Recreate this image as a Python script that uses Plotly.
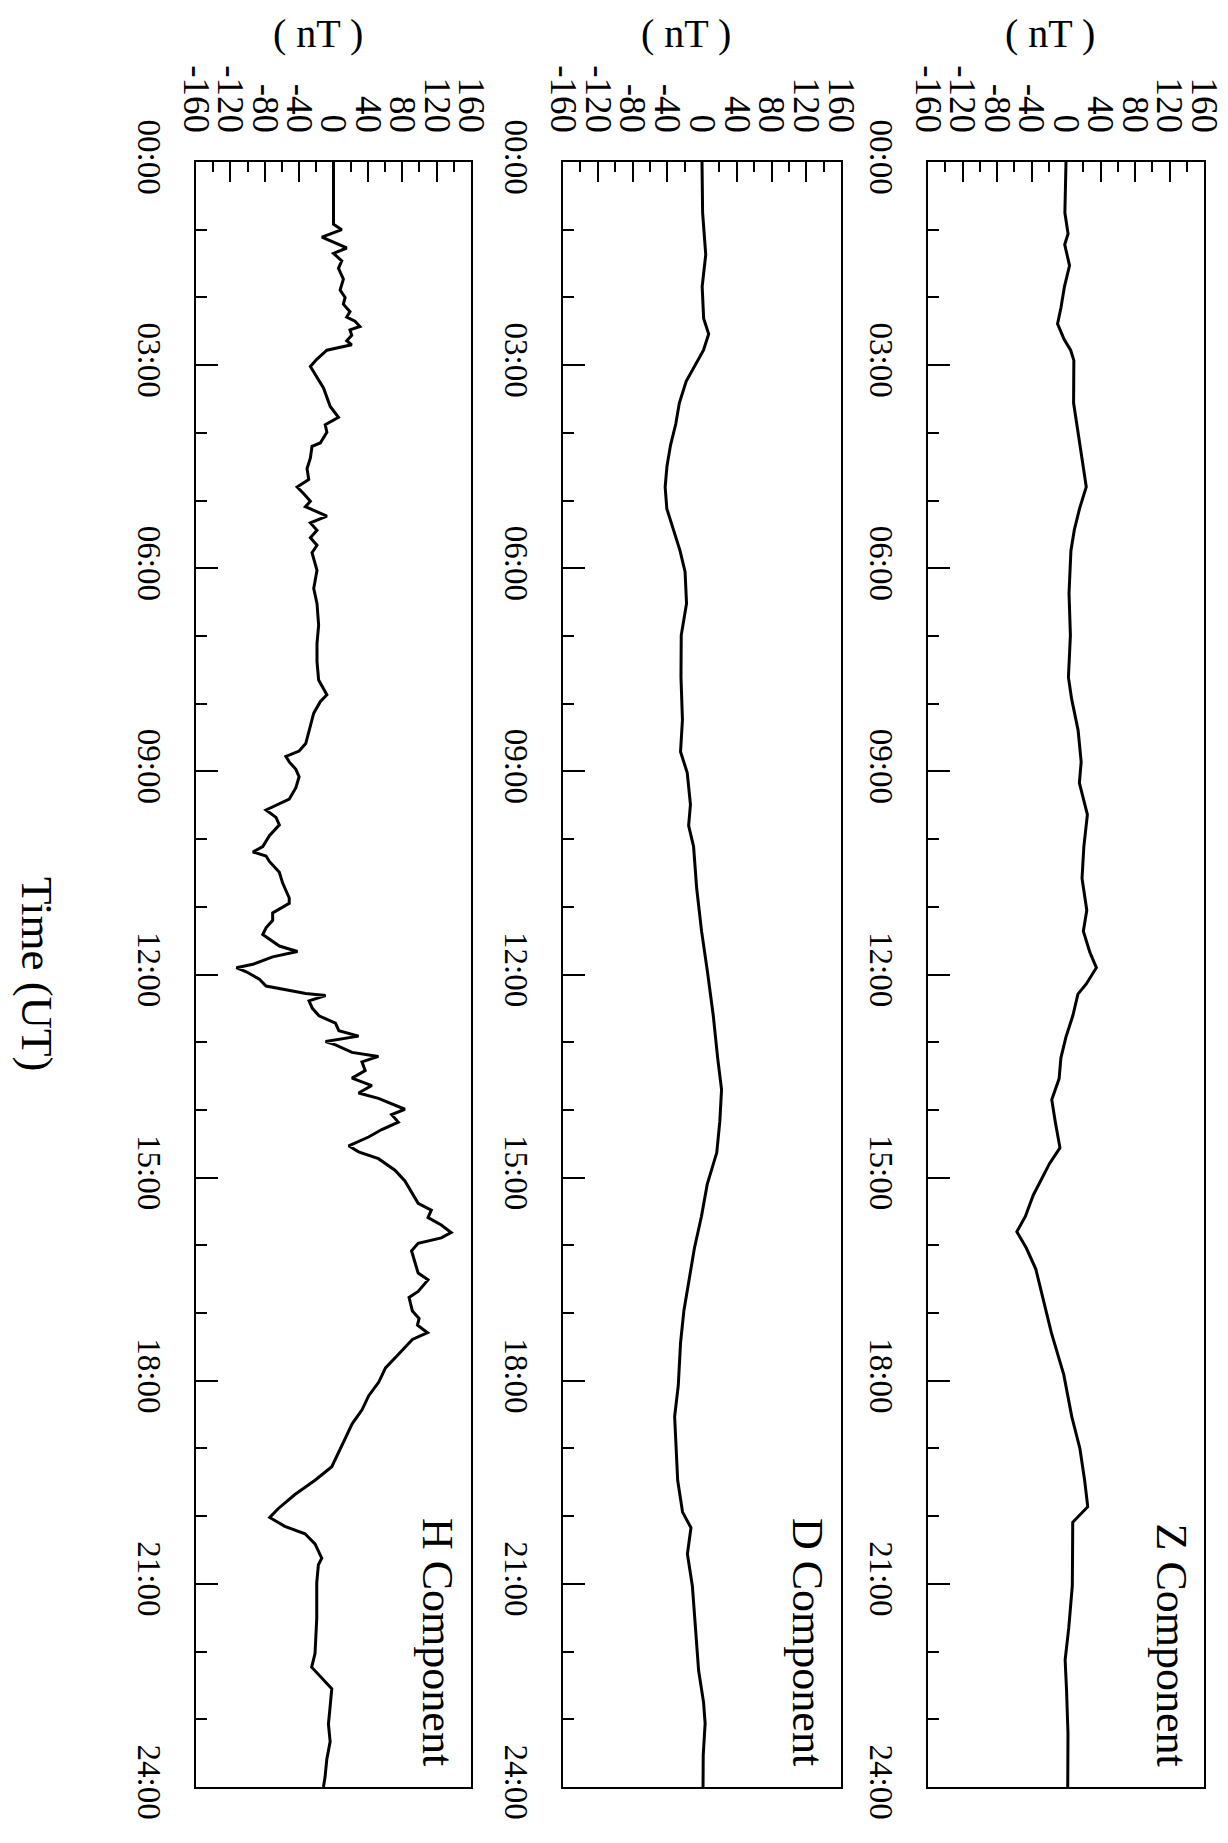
import plotly.graph_objects as go

# ---------------- data ----------------
# hours UT and nT for each component
h_time = [0.00, 0.92, 1.00, 1.11, 1.27, 1.35, 1.46, 1.57, 1.73, 1.89, 2.00, 2.10, 2.21, 2.29, 2.35, 2.43,
          2.48, 2.56, 2.64, 2.70, 2.78, 2.91, 3.02, 3.18, 3.34, 3.61, 3.77, 3.88, 3.99, 4.15, 4.20, 4.37,
          4.53, 4.69, 4.80, 4.90, 5.01, 5.09, 5.23, 5.33, 5.44, 5.55, 5.66, 5.77, 6.03, 6.30, 6.52, 6.84,
          7.11, 7.38, 7.65, 7.87, 7.97, 8.14, 8.43, 8.59, 8.70, 8.78, 8.86, 8.97, 9.08, 9.24, 9.41, 9.57,
          9.68, 9.79, 9.95, 10.11, 10.19, 10.25, 10.33, 10.49, 10.65, 10.76, 10.87, 10.95, 11.09, 11.20,
          11.31, 11.41, 11.58, 11.66, 11.74, 11.85, 11.90, 11.96, 12.07, 12.17, 12.23, 12.28, 12.31, 12.39,
          12.50, 12.61, 12.72, 12.83, 12.91, 12.99, 13.04, 13.15, 13.21, 13.29, 13.42, 13.53, 13.64, 13.75,
          13.83, 13.91, 13.99, 14.07, 14.18, 14.29, 14.40, 14.53, 14.62, 14.72, 14.89, 15.05, 15.21, 15.38,
          15.48, 15.59, 15.70, 15.81, 15.89, 15.97, 16.08, 16.24, 16.41, 16.51, 16.68, 16.77, 16.97, 17.08,
          17.18, 17.29, 17.39, 17.60, 17.81, 18.02, 18.22, 18.43, 18.64, 18.85, 19.06, 19.27, 19.47, 19.68,
          19.89, 20.02, 20.15, 20.26, 20.41, 20.62, 20.72, 20.98, 21.51, 22.03, 22.23, 22.39, 22.55, 22.81,
          23.07, 23.33, 23.59, 23.85, 24.00]
h_vals = [0, 0, 9.6, -13.5, 15.4, 0, 9.6, 5.8, 11.5, 7.7, 13.5, 11.5, 19.2, 15.4, 25, 30.8,
          19.2, 21.2, 15.4, 21.2, -7.7, -19.2, -26.9, -19.2, -11.5, -3.8, 5.8, -9.6, -7.7, -15.4, -25, -26.9,
          -30.8, -28.8, -42.3, -34.6, -26.9, -32.7, -7.7, -26.9, -19.2, -26.9, -19.2, -25, -19.2, -23, -19.2, -17.3,
          -19.2, -19.2, -17.3, -7.7, -15.4, -23, -28.5, -32.3, -40, -55.4, -51.5, -43.8, -40, -43.8, -51.5, -78.5,
          -66.9, -63, -74.6, -82.3, -93.8, -78.5, -74.6, -63, -59.2, -55.4, -51.5, -51.5, -70.8, -70.8,
          -78.5, -82.3, -63, -41.9, -70.8, -93.8, -113, -101.5, -86.2, -78.5, -55.4, -32.3, -9.2, -28.5,
          -24.6, -16.9, 2.3, 6.2, 29.2, -9.2, 2.3, 21.5, 52.3, 33.1, 36.9, 21.5, 44.6, 29.2,
          52.3, 67.7, 83.1, 67.7, 75.4, 56.2, 40.8, 17.7, 29.2, 52.3, 71.5, 83.1, 90.8, 98.5,
          113.8, 110, 125.4, 136.9, 125.4, 98.5, 90.8, 94.6, 98.5, 110, 98.5, 87.9, 91.8, 99.6,
          97.7, 109.4, 91.8, 76.2, 60.5, 52.7, 41, 33.2, 21.5, 13.7, 5.9, -2, -21.5, -44.9,
          -64.5, -74.2, -56.6, -33.2, -21.5, -13.7, -17.6, -19.5, -19.5, -21.5, -25.4, -13.7, -2, -3.9,
          -5.9, -3.9, -7.8, -9.8, -11.7]

d_time = [0.00, 0.75, 1.37, 1.84, 2.31, 2.54, 2.78, 3.01, 3.24, 3.56, 3.87, 4.18, 4.49, 4.80, 5.12, 5.43,
          5.74, 6.05, 6.52, 6.99, 7.61, 8.24, 8.71, 9.02, 9.49, 9.80, 10.11, 10.73, 11.36, 11.98, 12.61,
          13.23, 13.70, 14.17, 14.63, 15.10, 15.57, 16.04, 16.51, 16.97, 17.44, 18.07, 18.53, 19.00, 19.47,
          19.94, 20.17, 20.56, 21.03, 21.65, 22.28, 22.75, 23.06, 23.53, 24.00]
d_vals = [0, 0.7, 4.3, 0.2, 1.9, 7.7, 1.7, -8.2, -18.2, -26.1, -30.2, -36.2, -40.3, -42.4, -40.5, -32.9,
          -25.3, -19.5, -17.8, -23.9, -24.2, -22.5, -24.7, -17.0, -13.3, -15.4, -9.7, -6.1, -0.5, 6.5, 13.0,
          18.0, 22.5, 20.5, 17.0, 6.0, -0.6, -8.7, -14.8, -20.9, -24.7, -27.3, -31.5, -29.7, -28.0,
          -22.4, -12.7, -16.8, -11.1, -7.5, -3.9, 1.8, 3.6, 1.4, 1.2]

z_time = [0.00, 0.75, 1.06, 1.22, 1.53, 1.84, 2.15, 2.39, 2.62, 2.78, 2.93, 3.56, 4.02, 4.49, 4.80, 5.12,
          5.43, 5.74, 6.37, 6.99, 7.61, 7.93, 8.39, 8.86, 9.17, 9.64, 10.11, 10.58, 11.05, 11.36, 11.67,
          11.90, 12.14, 12.29, 12.61, 12.92, 13.23, 13.54, 13.85, 14.17, 14.56, 14.79, 15.26, 15.57, 15.80,
          16.04, 16.35, 16.82, 17.29, 17.91, 18.53, 19.00, 19.47, 19.86, 20.09, 20.56, 21.03, 21.65, 22.12,
          22.59, 23.21, 24.00]
z_vals = [0, -1.3, 2.4, -1.5, 4.1, -1.8, -5.8, -9.8, -2.2, 5.4, 9.1, 8.8, 14.3, 19.8, 23.5, 15.7,
          9.7, 5.7, 3.5, 5.1, 2.8, 6.5, 14.0, 17.6, 15.5, 24.8, 20.7, 18.6, 24.1, 20.1, 27.6,
          35.2, 23.5, 13.8, 7.9, 0.0, -5.9, -8.0, -16.5, -12.5, -7.0, -19.0, -38.0, -47.0, -57.0,
          -46.0, -35.0, -26.0, -17.0, -2.6, 6.7, 16.1, 21.6, 25.2, 7.8, 7.6, 7.3, 3.2, -1.0,
          0.7, 2.3, 2.0]

components = ["H Component", "D Component", "Z Component"]
value_ticks = [-160, -120, -80, -40, 0, 40, 80, 120, 160]
value_minor = [-140, -100, -60, -20, 20, 60, 100, 140]
value_labels = [str(v) for v in value_ticks]
time_ticks = [0, 3, 6, 9, 12, 15, 18, 21, 24]
time_labels = ["00:00", "03:00", "06:00", "09:00", "12:00", "15:00", "18:00", "21:00", "24:00"]
unit_label = "( nT )"
time_title = "Time (UT)"

# ---------------- layout ----------------
# positions are measured in window pixels; the page body has an 8px margin,
# so coordinates are shifted by 8px and the figure ends at the window edge.
OFF = 8
W, HGT = 1228 - OFF, 1843 - OFF
FONT = "Liberation Serif"
panels_px = [(196, 471), (563, 841), (928, 1204)]
top_px, bot_px = 162, 1787


def px(xw):
    return (xw - OFF) / W


def py(yw):
    return 1 - (yw - OFF) / HGT


ydom = [py(bot_px), py(top_px)]
series = [(h_time, h_vals), (d_time, d_vals), (z_time, z_vals)]

fig = go.Figure()
layout = dict(
    width=W, height=HGT, autosize=False,
    margin=dict(l=0, r=0, t=0, b=0, autoexpand=False),
    paper_bgcolor="white", plot_bgcolor="white",
    showlegend=False,
    font=dict(family=FONT, color="black"),
)

annotations = []
for i, ((l, r), (t, v)) in enumerate(zip(panels_px, series)):
    n = "" if i == 0 else str(i + 1)
    fig.add_trace(go.Scatter(x=v, y=t, mode="lines",
                             line=dict(color="black", width=3),
                             xaxis="x" + n, yaxis="y" + n, hoverinfo="skip"))
    layout["xaxis" + n] = dict(
        domain=[px(l), px(r)], anchor="y" + n, range=[-160, 160], automargin=False,
        side="top", tickmode="array", tickvals=value_ticks, ticktext=value_labels,
        tickangle=90, ticks="inside", ticklen=20, tickwidth=2, tickcolor="black",
        minor=dict(tickmode="array", tickvals=value_minor, ticks="inside", ticklen=10,
                   tickwidth=2, tickcolor="black", showgrid=False),
        showline=True, mirror=True, linewidth=2, linecolor="black",
        showgrid=False, zeroline=False, ticklabeloverflow="allow",
        tickfont=dict(family=FONT, size=37, color="black"),
        ticklabelstandoff=14,
    )
    layout["yaxis" + n] = dict(
        domain=ydom, anchor="x" + n, range=[24, 0], automargin=False,
        tickmode="array", tickvals=time_ticks, ticktext=time_labels,
        tickangle=90, ticks="inside", ticklen=22, tickwidth=2, tickcolor="black",
        minor=dict(dtick=1, tick0=0, ticks="inside", ticklen=11, tickwidth=2,
                   tickcolor="black", showgrid=False),
        showline=True, mirror=True, linewidth=2, linecolor="black",
        showgrid=False, zeroline=False, ticklabeloverflow="allow",
        tickfont=dict(family=FONT, size=33, color="black"),
        ticklabelstandoff=16,
    )
    # unit label above panel
    annotations.append(dict(
        text=unit_label, x=px((l + r) / 2 - 16), y=py(34),
        xref="paper", yref="paper", xanchor="center", yanchor="middle",
        showarrow=False, font=dict(family=FONT, size=40, color="black")))
    # component label (rotated) inside bottom-right corner
    annotations.append(dict(
        text=components[i], x=px(r - 33), y=py(1768),
        xref="paper", yref="paper", xanchor="center", yanchor="bottom",
        textangle=90, showarrow=False,
        font=dict(family=FONT, size=44, color="black")))

annotations.append(dict(
    text=time_title, x=px(37), y=py(974), xref="paper", yref="paper",
    xanchor="center", yanchor="middle", textangle=90, showarrow=False,
    font=dict(family=FONT, size=45, color="black")))

layout["annotations"] = annotations
fig.update_layout(**layout)
fig.write_html("out.html")
